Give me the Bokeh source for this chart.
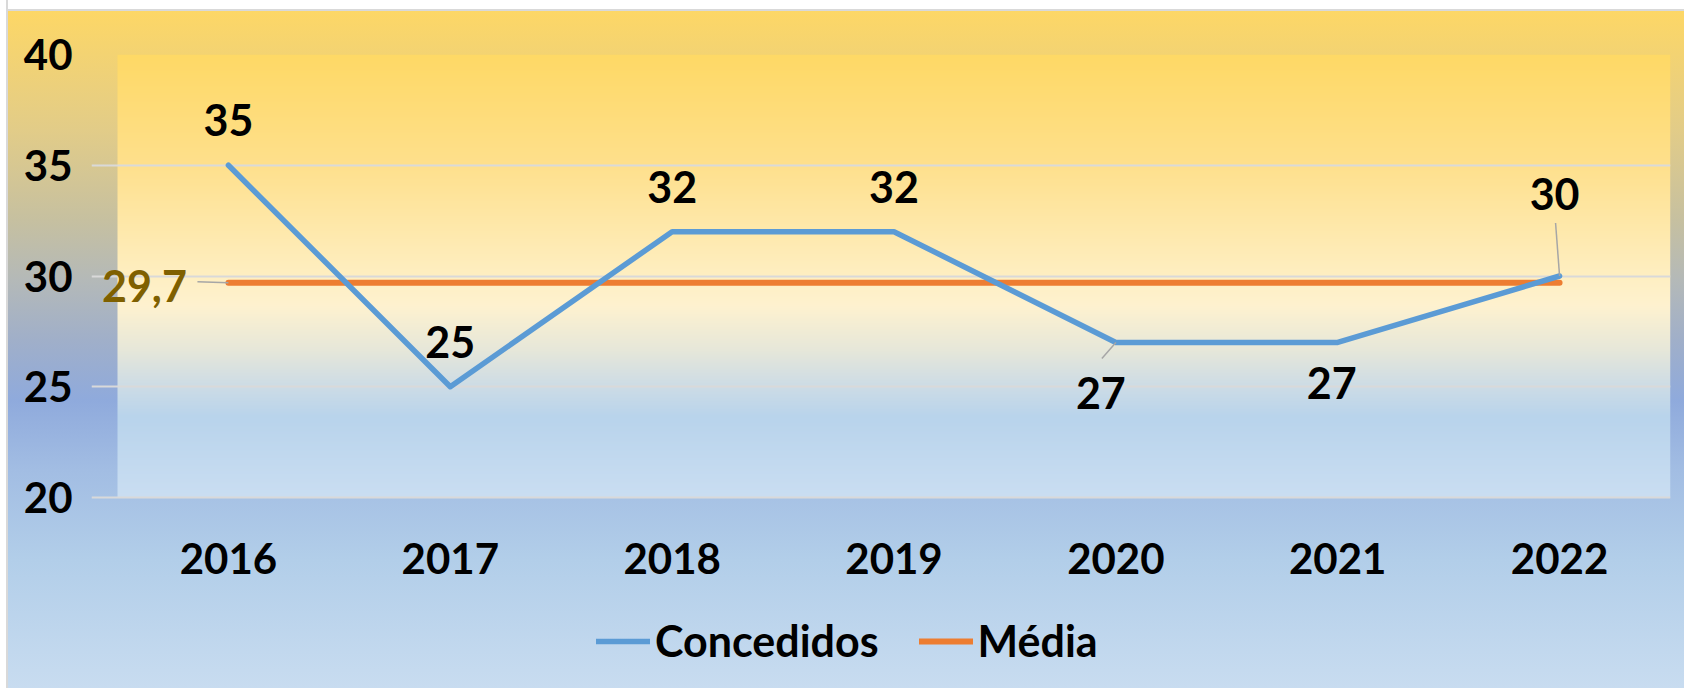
import numpy as np
from bokeh.plotting import figure
from bokeh.models import ColumnDataSource, FixedTicker, Legend, LegendItem, Range1d
from bokeh.core.properties import value
from bokeh.embed import file_html
from bokeh.resources import INLINE

# ---------------- data ----------------
anos = ["2016", "2017", "2018", "2019", "2020", "2021", "2022"]
concedidos = [35, 25, 32, 32, 27, 27, 30]
media = [29.7, 29.7, 29.7, 29.7, 29.7, 29.7, 29.7]
media_label = "29,7"
y_ticks = [20, 25, 30, 35, 40]

# ---------------- style ----------------
lab_dx = [0, 0, 0, 0, -15, -6, -5]          # label offsets (px)
lab_dy = [-45, -45, -45, -45, 51, 41, -82]
W, H = 1684, 688
PL, PR, PT, PB = 117, 1670, 54, 497          # plot area (px)
EXTRA = 26                                   # room left of plot area for the 29,7 label
FONT = "Lato"
BLUE, ORANGE = "#5B9BD5", "#ED7D31"

xs = list(range(len(anos)))
n_cat = len(anos)
ymin, ymax = y_ticks[0], y_ticks[-1]
ppx = (PR - PL) / n_cat
ppy = (PB - PT) / (ymax - ymin)

# frame extends below the plot area (x labels + legend live inside it)
p = figure(width=W, height=H, output_backend="svg", toolbar_location=None,
           x_range=Range1d(-0.5 - EXTRA / ppx, n_cat - 0.5),
           y_range=Range1d(ymin - (H - PB) / ppy, ymax),
           min_border_left=PL - EXTRA, min_border_right=W - PR, min_border_top=PT, min_border_bottom=0)
p.background_fill_color = None
p.border_fill_color = None
p.outline_line_color = None
p.styles = {"background":
            "linear-gradient(to right, #FFFFFF 0px, #FFFFFF 6px, #D9D9D9 6px, #D9D9D9 8px, transparent 8px), "
            "linear-gradient(to bottom, #FFFFFF 0px, #FFFFFF 9px, #D9D9D9 9px, #D9D9D9 11px, "
            "#FDD766 11px, #E2CC88 130px, #C6C0A0 220px, #B4B9B8 280px, #A0AFC9 340px, "
            "#8FAADC 400px, #A2BDE3 470px, #B2CEE9 560px, #C8DCF0 688px)"}

# plot-area gradient
stops_v = [20, 23.6, 25, 26.6, 28.6, 30, 35.1, 40]
stops_c = ["#CADEF2", "#B9D4EC", "#CDDCE6", "#E6E7DA", "#FEF2D0", "#FFEFC2", "#FEE08C", "#FED966"]
n = 443
yy = np.linspace(ymin, ymax, n)
rgb = np.array([[int(c[i:i + 2], 16) for i in (1, 3, 5)] for c in stops_c], dtype=float)
img = np.empty((n, 2), dtype=np.uint32)
view = img.view(dtype=np.uint8).reshape((n, 2, 4))
for k in range(3):
    view[:, :, k] = np.interp(yy, stops_v, rgb[:, k])[:, None].astype(np.uint8)
view[:, :, 3] = 255
im = p.image_rgba(image=[img], x=-0.5, y=ymin, dw=n_cat, dh=ymax - ymin)
im.level = "image"

# grid
p.xgrid.grid_line_color = None
p.ygrid.ticker = FixedTicker(ticks=y_ticks)
p.ygrid.bounds = (-0.5, n_cat - 0.5)
p.ygrid.grid_line_color = "#D9D9D9"
p.ygrid.grid_line_width = 2

# lines
l2 = p.line(xs, media, line_color=ORANGE, line_width=6, line_cap="round")
l1 = p.line(xs, concedidos, line_color=BLUE, line_width=5.5, line_cap="round", line_join="round")

# leader lines (px offsets converted to data units)
p.segment(x0=[xs[4], xs[6], xs[0]], y0=[concedidos[4], concedidos[6], media[0]],
          x1=[xs[4] - 14 / ppx, xs[6] - 4 / ppx, xs[0] - 31 / ppx],
          y1=[concedidos[4] - 16 / ppy, concedidos[6] + 53 / ppy, media[0] + 1 / ppy],
          line_color="#A6A6A6", line_width=1.5)

# data labels
src = ColumnDataSource(dict(x=xs, y=concedidos, t=[str(v) for v in concedidos], dx=lab_dx, dy=lab_dy))
p.text(x="x", y="y", text="t", x_offset="dx", y_offset="dy", source=src,
       text_align="center", text_baseline="middle", text_font=value(FONT),
       text_font_style="bold", text_font_size="43px", text_color="black")
p.text(x=[xs[0]], y=[media[0]], text=[media_label], x_offset=-84, y_offset=3,
       text_align="center", text_baseline="middle", text_font=value(FONT),
       text_font_style="bold", text_font_size="43px", text_color="#7F6000")

# category labels (x axis)
p.text(x=xs, y=[ymin] * n_cat, text=anos, y_offset=61,
       text_align="center", text_baseline="middle", text_font=value(FONT),
       text_font_style="bold", text_font_size="42px", text_color="black")
p.xaxis.visible = False

# y axis
yax = p.yaxis[0]
yax.axis_line_color = None
yax.major_tick_line_color = None
yax.minor_tick_line_color = None
yax.major_tick_out = 0
yax.major_tick_in = 0
yax.major_label_text_font = FONT
yax.major_label_text_font_style = "bold"
yax.major_label_text_color = "black"
yax.ticker = FixedTicker(ticks=y_ticks)
yax.major_label_text_font_size = "42px"
yax.major_label_standoff = 45 - EXTRA

legend = Legend(items=[LegendItem(label="Concedidos", renderers=[l1]),
                       LegendItem(label="Média", renderers=[l2])],
                location=(596 - (PL - EXTRA), 22), orientation="horizontal",
                background_fill_alpha=0, border_line_color=None,
                label_text_font=FONT, label_text_font_style="bold", label_text_font_size="43px",
                label_text_color="black",
                glyph_width=54, glyph_height=50, label_height=50, spacing=40, padding=0, margin=0,
                label_standoff=5)
p.add_layout(legend, "center")

open("out.html", "w").write(file_html(p, INLINE))
